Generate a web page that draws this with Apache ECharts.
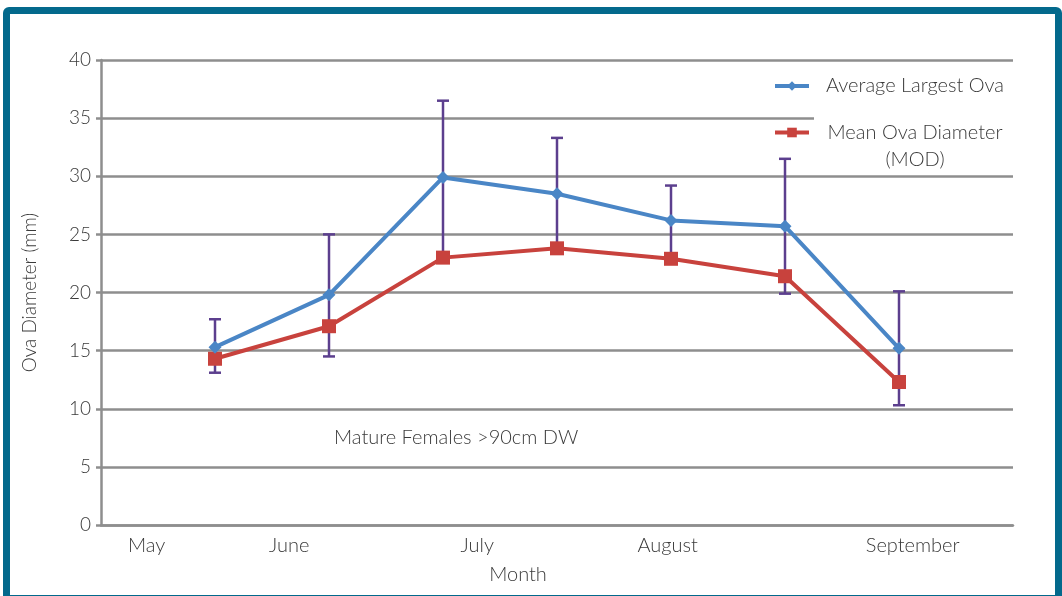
<!DOCTYPE html>
<html>
<head>
<meta charset="utf-8">
<script src="https://cdn.jsdelivr.net/npm/echarts@6/dist/echarts.min.js"></script>
<style>
  html, body { margin: 0; padding: 0; background: #fff; }
  #chart { position: absolute; left: 0; top: 0; width: 1062px; height: 596px; }
  #frame {
    position: absolute; left: 3px; top: 7px; width: 1045px; height: 581px;
    border: 7px solid #03698c; border-radius: 6px; pointer-events: none;
  }
</style>
</head>
<body>
<div id="chart"></div>
<div id="frame"></div>
<script>
// sampling positions along the month axis
const samplePos = [1, 2, 3, 4, 5, 6, 7]
const largestOva = [15.3, 19.8, 29.9, 28.5, 26.2, 25.7, 15.2]
const meanOva = [14.3, 17.1, 23.0, 23.8, 22.9, 21.4, 12.3]
const errLow = [13.1, 14.5, 23.0, 23.8, 22.9, 19.9, 10.3]
const errHigh = [17.7, 25.0, 36.5, 33.3, 29.2, 31.5, 20.1]

const monthNames = ['May', 'June', 'July', 'August', 'September']
const monthPos = [0.4, 1.65, 3.3, 4.97, 7.12]

const font = 'Lato'
const textColor = '#3a3a3a'
const gridColor = '#8e8e8e'

const chart = echarts.init(document.getElementById('chart'))

const legendText = {
  fontFamily: font,
  fontWeight: 300,
  color: textColor,
  rich: {
    a: { width: 202, align: 'center', fontSize: 20, lineHeight: 27, fontFamily: font, fontWeight: 300, color: textColor }
  }
}

chart.setOption({
  animation: false,
  textStyle: { fontFamily: font },
  title: {
    text: 'Mature Females >90cm DW',
    left: 334,
    top: 428,
    padding: 0,
    textStyle: { fontSize: 20, fontWeight: 300, color: textColor, fontFamily: font }
  },
  grid: { left: 101, right: 49, top: 60, bottom: 71 },
  legend: [
    {
      data: ['Average Largest Ova'],
      left: 773,
      top: 76,
      z: 6,
      padding: 0,
      itemWidth: 34,
      itemHeight: 12,
      lineStyle: { width: 4 },
      selectedMode: false,
      formatter: '{a|{name}}',
      textStyle: legendText
    },
    {
      data: [{
        name: 'Mean Ova Diameter (MOD)',
        textStyle: Object.assign({}, legendText, { padding: [27, 0, 0, 0], backgroundColor: '#fff' })
      }],
      left: 773,
      top: 92,
      z: 4,
      padding: 0,
      itemWidth: 34,
      itemHeight: 12,
      lineStyle: { width: 4 },
      selectedMode: false,
      formatter: '{a|Mean Ova Diameter}\n{a|(MOD)}',
      textStyle: legendText
    }
  ],
  xAxis: {
    type: 'value',
    min: 0,
    max: 8,
    name: 'Month',
    nameLocation: 'middle',
    nameGap: 40,
    nameTextStyle: { fontSize: 20, fontWeight: 300, color: textColor, fontFamily: font, padding: [0, 78, 0, 0] },
    axisLine: { show: true, lineStyle: { color: gridColor, width: 2.5 } },
    axisTick: { show: false },
    splitLine: { show: false },
    axisLabel: {
      customValues: monthPos,
      margin: 11,
      fontSize: 20,
      fontWeight: 300,
      color: textColor,
      formatter: function (v) {
        let best = 0
        monthPos.forEach((p, i) => { if (Math.abs(p - v) < Math.abs(monthPos[best] - v)) best = i })
        return monthNames[best]
      }
    }
  },
  yAxis: {
    type: 'value',
    min: 0,
    max: 40,
    interval: 5,
    name: 'Ova Diameter (mm)',
    nameLocation: 'middle',
    nameGap: 62,
    nameTextStyle: { fontSize: 19, fontWeight: 300, color: textColor, fontFamily: font },
    axisLine: { show: true, lineStyle: { color: gridColor, width: 2.5 } },
    axisTick: { show: true, length: 5, lineStyle: { color: gridColor, width: 2.5 } },
    splitLine: { lineStyle: { color: gridColor, width: 2.5 } },
    axisLabel: { margin: 10, fontSize: 19, fontWeight: 300, color: textColor }
  },
  series: [
    {
      type: 'custom',
      name: 'range',
      z: 1,
      data: samplePos.map((x, i) => [x, errLow[i], errHigh[i]]),
      renderItem: function (params, api) {
        const lo = api.coord([api.value(0), api.value(1)])
        const hi = api.coord([api.value(0), api.value(2)])
        const cap = 6
        const style = { stroke: '#5c3f8e', lineWidth: 2.5 }
        return {
          type: 'group',
          children: [
            { type: 'line', shape: { x1: lo[0], y1: lo[1], x2: hi[0], y2: hi[1] }, style: style },
            { type: 'line', shape: { x1: hi[0] - cap, y1: hi[1], x2: hi[0] + cap, y2: hi[1] }, style: style },
            { type: 'line', shape: { x1: lo[0] - cap, y1: lo[1], x2: lo[0] + cap, y2: lo[1] }, style: style }
          ]
        }
      }
    },
    {
      name: 'Average Largest Ova',
      type: 'line',
      z: 3,
      data: samplePos.map((x, i) => [x, largestOva[i]]),
      symbol: 'diamond',
      symbolSize: 13,
      itemStyle: { color: '#4a86c6' },
      lineStyle: { color: '#4a86c6', width: 4 }
    },
    {
      name: 'Mean Ova Diameter (MOD)',
      type: 'line',
      z: 2,
      data: samplePos.map((x, i) => [x, meanOva[i]]),
      symbol: 'rect',
      symbolSize: 14,
      itemStyle: { color: '#c8423d' },
      lineStyle: { color: '#c8423d', width: 4 }
    }
  ]
})
</script>
</body>
</html>
